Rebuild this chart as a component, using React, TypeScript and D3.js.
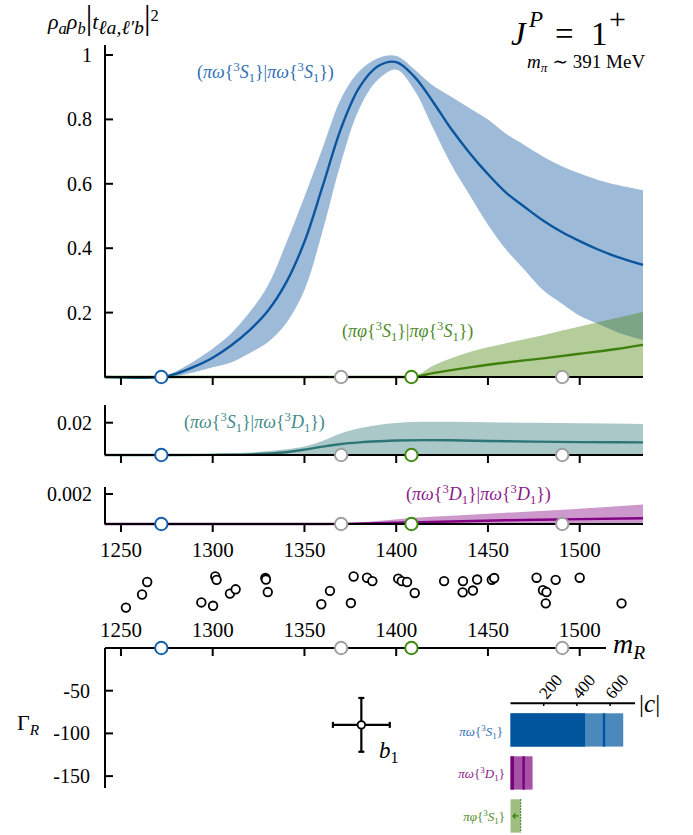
import * as d3 from "d3";

// ---- data ----
const xTicks = [1250, 1300, 1350, 1400, 1450, 1500];
const thresholds = [1272, 1370, 1408.3, 1490.5];
const thresholdColors = ["#1660ae", "#a0a0a0", "#3f8a10", "#a0a0a0"];

const mainTicks = [0.2, 0.4, 0.6, 0.8, 1];
const mainTickLabels = ["0.2", "0.4", "0.6", "0.8", "1"];

// (πω{3S1}|πω{3S1})
const swM = [1241, 1272, 1280, 1290, 1300, 1310, 1320, 1330, 1340, 1350, 1360, 1370, 1380, 1390, 1400, 1410, 1420, 1430, 1440, 1450, 1460, 1470, 1480, 1490, 1500, 1510, 1520, 1534.5];
const swMid = [0, 0, 0.01, 0.032, 0.06, 0.098, 0.145, 0.205, 0.293, 0.42, 0.594, 0.773, 0.9, 0.965, 0.978, 0.932, 0.855, 0.77, 0.696, 0.63, 0.572, 0.528, 0.486, 0.451, 0.422, 0.396, 0.374, 0.348];
const swHi = [0, 0, 0.018, 0.05, 0.088, 0.135, 0.2, 0.283, 0.415, 0.56, 0.713, 0.865, 0.95, 0.99, 0.997, 0.955, 0.905, 0.87, 0.835, 0.8, 0.755, 0.72, 0.685, 0.655, 0.632, 0.612, 0.597, 0.58];
const swLo = [0, 0, 0.003, 0.015, 0.03, 0.045, 0.074, 0.108, 0.167, 0.27, 0.456, 0.668, 0.835, 0.923, 0.955, 0.89, 0.774, 0.66, 0.565, 0.473, 0.395, 0.332, 0.27, 0.229, 0.19, 0.165, 0.14, 0.115];

// (πφ{3S1}|πφ{3S1})
const phM = [1241, 1408.3, 1420, 1440, 1460, 1480, 1500, 1520, 1534.5];
const phMid = [0, 0, 0.012, 0.03, 0.045, 0.058, 0.072, 0.087, 0.1];
const phHi = [0, 0, 0.035, 0.078, 0.105, 0.13, 0.157, 0.183, 0.203];

// (πω{3S1}|πω{3D1})
const sdM = [1241, 1280, 1300, 1320, 1340, 1350, 1360, 1370, 1380, 1390, 1400, 1415, 1430, 1450, 1475, 1500, 1534.5];
const sdMid = [0, 0, 0.0001, 0.0004, 0.0017, 0.0033, 0.0052, 0.0068, 0.0078, 0.0085, 0.009, 0.0092, 0.0091, 0.0087, 0.0083, 0.008, 0.0078];
const sdHi = [0.0002, 0.0004, 0.0008, 0.0015, 0.0035, 0.0052, 0.0088, 0.0135, 0.0165, 0.0186, 0.0198, 0.0206, 0.0206, 0.0203, 0.0199, 0.0196, 0.0192];

// (πω{3D1}|πω{3D1})
const ddM = [1241, 1360, 1370, 1390, 1408.3, 1430, 1460, 1490.5, 1534.5];
const ddMid = [0, 0, 0.00001, 0.00005, 0.00011, 0.00017, 0.00025, 0.00031, 0.00038];
const ddHi = [0, 0, 0.00003, 0.0002, 0.0004, 0.00055, 0.00075, 0.00095, 0.0013];

// pole masses from the different parameterizations
const poleMass = [1252.7, 1261.5, 1264.3, 1301.4, 1302.1, 1293.8, 1300.2, 1309.4, 1312.5, 1328.7, 1329, 1330, 1359.2, 1363.9, 1375.3, 1376.8, 1384.1, 1387, 1401.1, 1403, 1405.9, 1410.1, 1426.1, 1436.4, 1436.2, 1441.8, 1444.1, 1452.1, 1453.4, 1476.5, 1480, 1481.9, 1481.5, 1486.9, 1500, 1522.8];
const poleJitter = [1.02, 0.59, 0.18, 0, 0.11, 0.85, 0.96, 0.56, 0.42, 0.05, 0.1, 0.51, 0.91, 0.47, 0.87, 0, 0.04, 0.15, 0.07, 0.15, 0.18, 0.54, 0.15, 0.15, 0.52, 0.46, 0.1, 0.11, 0.05, 0.04, 0.45, 0.51, 0.88, 0.11, 0.04, 0.88];

const gammaTicks = [-50, -100, -150];
const b1 = { m: 1381, mErr: 15.5, g: -90, gErr: 31.5 };

const couplingTicks = [200, 400, 600];
const couplingLow = [449, 21, 0];
const couplingMid = [563, 79, NaN];
const couplingHigh = [679, 133, 61];

// ---- scales ----
const x = d3.scaleLinear().domain([1241.3, 1534.5]).range([105, 643]);
const yMain = d3.scaleLinear().domain([0, 1]).range([377, 55]);
const ySd = d3.scaleLinear().domain([0, 0.02]).range([455, 422.7]);
const yDd = d3.scaleLinear().domain([0, 0.002]).range([524, 494]);
const yJit = d3.scaleLinear().domain([0, 1]).range([576.5, 607]);
const yG = d3.scaleLinear().domain([0, -50]).range([648, 690.7]);
const xC = d3.scaleLinear().domain([0, 200]).range([510.5, 543.7]);
const yC = d3.scaleBand<number>().domain([0, 1, 2]).range([708.45, 837.45]).paddingInner(0.2256).paddingOuter(0.1128);

const FONT = "'Liberation Serif', 'DejaVu Serif', serif";

type Seg = { t: string; i?: boolean; s?: "sup" | "sub"; k?: number };

function MText({ x, y, segs, size, fill = "#000", anchor = "start" }: { x: number; y: number; segs: Seg[]; size: number; fill?: string; anchor?: string }) {
  let cur = 0;
  return (
    <text x={x} y={y} fontFamily={FONT} fontSize={size} fill={fill} textAnchor={anchor}>
      {segs.map((sg, i) => {
        const target = sg.s === "sup" ? -0.38 * size : sg.s === "sub" ? 0.22 * size : 0;
        const dy = target - cur;
        cur = target;
        return (
          <tspan key={i} dy={dy} fontSize={sg.s ? size * (sg.k || 0.7) : size * (sg.k || 1)} fontStyle={sg.i ? "italic" : "normal"}>
            {sg.t}
          </tspan>
        );
      })}
    </text>
  );
}

const chan = (p: string, L: string): Seg[] => [
  { t: p, i: true },
  { t: "{" },
  { t: "3", s: "sup" },
  { t: L, i: true },
  { t: "1", s: "sub" },
  { t: "}" },
];
const pair = (a: Seg[], b: Seg[]): Seg[] => [{ t: "(" }, ...a, { t: "|" }, ...b, { t: ")" }];

type Curve = d3.CurveFactory;
const smooth: Curve = d3.curveCatmullRom.alpha(0.5);
const mono: Curve = d3.curveMonotoneX;

function band(ms: number[], hi: number[], lo: number[] | null, y: d3.ScaleLinear<number, number>, c: Curve) {
  return d3
    .area<number>()
    .x((i) => x(ms[i]))
    .y0((i) => y(lo ? lo[i] : 0))
    .y1((i) => y(hi[i]))
    .curve(c)(ms.map((_, i) => i)) as string;
}
function line(ms: number[], v: number[], y: d3.ScaleLinear<number, number>, c: Curve) {
  return d3
    .line<number>()
    .x((i) => x(ms[i]))
    .y((i) => Math.min(y(v[i]), y(0)))
    .curve(c)(ms.map((_, i) => i)) as string;
}

const BLUE = "#0a559e";
const GREEN = "#3f800c";
const TEAL = "#2e7676";
const PURPLE = "#820082";

function XAxis({ y0, x1 = 643 }: { y0: number; x1?: number }) {
  return (
    <g>
      <line x1={105} x2={x1} y1={y0} y2={y0} stroke="#000" strokeWidth={2} />
      {xTicks.map((t) => (
        <line key={t} x1={x(t)} x2={x(t)} y1={y0} y2={y0 + 8} stroke="#000" strokeWidth={2} />
      ))}
    </g>
  );
}

function Thresholds({ y0 }: { y0: number }) {
  return (
    <g>
      {thresholds.map((t, i) => (
        <circle key={i} cx={x(t)} cy={y0} r={6.2} fill="#fff" stroke={thresholdColors[i]} strokeWidth={2} />
      ))}
    </g>
  );
}

export default function App() {
  const arrowY = (yC(2) as number) + yC.bandwidth() / 2;
  return (
    <svg width={693} height={835} style={{ position: "absolute", left: 0, top: 0, background: "#fff" }}>
      {/* ---- main panel ---- */}
      <path d={band(swM, swHi, swLo, yMain, smooth)} fill={BLUE} fillOpacity={0.4} />
      <path d={band(phM, phHi, null, yMain, mono)} fill="#4c8811" fillOpacity={0.42} />
      <path d={line(swM, swMid, yMain, smooth)} fill="none" stroke={BLUE} strokeWidth={2.4} />
      <path d={line(phM, phMid, yMain, mono)} fill="none" stroke={GREEN} strokeWidth={2.4} />
      <line x1={105} x2={105} y1={45} y2={377} stroke="#000" strokeWidth={2} />
      {mainTicks.map((t, i) => (
        <g key={t}>
          <line x1={105} x2={113} y1={yMain(t)} y2={yMain(t)} stroke="#000" strokeWidth={2} />
          <text x={92} y={yMain(t) + 7} textAnchor="end" fontFamily={FONT} fontSize={20}>
            {mainTickLabels[i]}
          </text>
        </g>
      ))}
      <XAxis y0={377} />
      <Thresholds y0={377} />

      <MText
        x={48}
        y={29}
        size={22}
        segs={[
          { t: "ρ", i: true },
          { t: "a", i: true, s: "sub", k: 0.75 },
          { t: "ρ", i: true },
          { t: "b", i: true, s: "sub", k: 0.75 },
          { t: "|", k: 1.5 },
          { t: "t", i: true },
          { t: "ℓa,ℓ′b", i: true, s: "sub", k: 0.9 },
          { t: "|", k: 1.5 },
          { t: "2", s: "sup", k: 0.75 },
        ]}
      />
      <g fontFamily={FONT}>
        <text x={511} y={45} fontSize={33} fontStyle="italic">J</text>
        <text x={529} y={27} fontSize={23} fontStyle="italic">P</text>
        <text x={555} y={45} fontSize={33}>=</text>
        <text x={591} y={45} fontSize={33}>1</text>
        <text x={609} y={29} fontSize={30}>+</text>
      </g>
      <MText x={527} y={68} size={19} segs={[{ t: "m", i: true }, { t: "π", i: true, s: "sub" }, { t: " ∼ 391 MeV" }]} />

      <MText x={197} y={78} size={18} fill="#2f6fb5" segs={pair(chan("πω", "S"), chan("πω", "S"))} />
      <MText x={342} y={337} size={18} fill="#4f8a2a" segs={pair(chan("πφ", "S"), chan("πφ", "S"))} />

      {/* ---- S-D panel ---- */}
      <path d={band(sdM, sdHi, null, ySd, mono)} fill={TEAL} fillOpacity={0.4} />
      <path d={line(sdM, sdMid, ySd, mono)} fill="none" stroke={TEAL} strokeWidth={2.4} />
      <line x1={105} x2={105} y1={405} y2={455} stroke="#000" strokeWidth={2} />
      <line x1={105} x2={113} y1={ySd(0.02)} y2={ySd(0.02)} stroke="#000" strokeWidth={2} />
      <text x={92} y={ySd(0.02) + 7} textAnchor="end" fontFamily={FONT} fontSize={20}>
        0.02
      </text>
      <XAxis y0={455} />
      <Thresholds y0={455} />
      <MText x={184} y={428} size={18} fill="#3f8a8a" segs={pair(chan("πω", "S"), chan("πω", "D"))} />

      {/* ---- D-D panel ---- */}
      <path d={band(ddM, ddHi, null, yDd, mono)} fill={PURPLE} fillOpacity={0.4} />
      <path d={line(ddM, ddMid, yDd, mono)} fill="none" stroke={PURPLE} strokeWidth={2.4} />
      <line x1={105} x2={105} y1={487} y2={524} stroke="#000" strokeWidth={2} />
      <line x1={105} x2={113} y1={yDd(0.002)} y2={yDd(0.002)} stroke="#000" strokeWidth={2} />
      <text x={92} y={yDd(0.002) + 7} textAnchor="end" fontFamily={FONT} fontSize={20}>
        0.002
      </text>
      <XAxis y0={524} />
      <Thresholds y0={524} />
      <MText x={406} y={500} size={18} fill="#8a1a8a" segs={pair(chan("πω", "D"), chan("πω", "D"))} />
      {xTicks.map((t) => (
        <text key={t} x={x(t)} y={557} textAnchor="middle" fontFamily={FONT} fontSize={21}>
          {t}
        </text>
      ))}

      {/* ---- pole mass scatter ---- */}
      {poleMass.map((m, i) => (
        <circle key={i} cx={x(m)} cy={yJit(poleJitter[i])} r={4.3} fill="#fff" stroke="#000" strokeWidth={1.8} />
      ))}

      {/* ---- Gamma panel ---- */}
      {xTicks.map((t) => (
        <text key={t} x={x(t)} y={637} textAnchor="middle" fontFamily={FONT} fontSize={21}>
          {t}
        </text>
      ))}
      <XAxis y0={648} x1={606} />
      <line x1={105} x2={105} y1={648} y2={788} stroke="#000" strokeWidth={2} />
      {gammaTicks.map((t) => (
        <g key={t}>
          <line x1={105} x2={113} y1={yG(t)} y2={yG(t)} stroke="#000" strokeWidth={2} />
          <text x={90} y={yG(t) + 7} textAnchor="end" fontFamily={FONT} fontSize={20}>
            {t}
          </text>
        </g>
      ))}
      <Thresholds y0={648} />
      <MText x={613} y={653} size={28} segs={[{ t: "m", i: true }, { t: "R", i: true, s: "sub" }]} />
      <MText x={17} y={730} size={22} segs={[{ t: "Γ" }, { t: "R", i: true, s: "sub" }]} />

      <g stroke="#000" strokeWidth={2.2}>
        <line x1={x(b1.m - b1.mErr)} x2={x(b1.m + b1.mErr)} y1={yG(b1.g)} y2={yG(b1.g)} />
        <line x1={x(b1.m)} x2={x(b1.m)} y1={yG(b1.g + b1.gErr)} y2={yG(b1.g - b1.gErr)} />
        <line x1={x(b1.m - b1.mErr)} x2={x(b1.m - b1.mErr)} y1={yG(b1.g) - 3} y2={yG(b1.g) + 3} />
        <line x1={x(b1.m + b1.mErr)} x2={x(b1.m + b1.mErr)} y1={yG(b1.g) - 3} y2={yG(b1.g) + 3} />
        <line x1={x(b1.m) - 3} x2={x(b1.m) + 3} y1={yG(b1.g + b1.gErr)} y2={yG(b1.g + b1.gErr)} />
        <line x1={x(b1.m) - 3} x2={x(b1.m) + 3} y1={yG(b1.g - b1.gErr)} y2={yG(b1.g - b1.gErr)} />
      </g>
      <circle cx={x(b1.m)} cy={yG(b1.g)} r={3.8} fill="#fff" stroke="#000" strokeWidth={1.8} />
      <MText x={379} y={758} size={23} segs={[{ t: "b", i: true }, { t: "1", s: "sub" }]} />

      {/* ---- couplings ---- */}
      <line x1={xC(0)} x2={635} y1={703.3} y2={703.3} stroke="#000" strokeWidth={2} />
      {couplingTicks.map((t) => (
        <g key={t}>
          <line x1={xC(t)} x2={xC(t)} y1={703.3} y2={706} stroke="#000" strokeWidth={1.5} />
          <text transform={`translate(${xC(t) + 3},${700}) rotate(-50)`} fontFamily={FONT} fontSize={17}>
            {t}
          </text>
        </g>
      ))}
      <MText x={639} y={712} size={25} segs={[{ t: "|" }, { t: "c", i: true }, { t: "|" }]} />

      {[0, 1].map((i) => {
        const dark = i === 0 ? "#00559d" : "#7b007b";
        const light = i === 0 ? "#4b89bd" : "#a652a6";
        const y0 = yC(i) as number;
        const h = yC.bandwidth();
        return (
          <g key={i}>
            <rect x={xC(0)} y={y0} width={xC(couplingHigh[i]) - xC(0)} height={h} fill={light} />
            <rect x={xC(0)} y={y0} width={xC(couplingLow[i]) - xC(0)} height={h} fill={dark} />
            <rect x={xC(couplingMid[i]) - 1.2} y={y0} width={2.4} height={h} fill={dark} />
          </g>
        );
      })}
      <rect x={xC(0)} y={yC(2) as number} width={xC(couplingHigh[2]) - xC(0)} height={yC.bandwidth()} fill="#9fbf80" />
      <line
        x1={xC(couplingHigh[2])}
        x2={xC(couplingHigh[2])}
        y1={yC(2) as number}
        y2={(yC(2) as number) + yC.bandwidth()}
        stroke="#3e7f10"
        strokeWidth={1.3}
        strokeDasharray="1.5 1.5"
      />
      <path
        d={`M${xC(couplingHigh[2]) - 2},${arrowY} H${xC(0) + 2.5} M${xC(0) + 5},${arrowY - 2.5} L${xC(0) + 2.5},${arrowY} L${xC(0) + 5},${arrowY + 2.5}`}
        fill="none"
        stroke="#3e7f10"
        strokeWidth={1.3}
      />

      <MText x={503} y={736} size={13} anchor="end" fill="#2f6fb5" segs={chan("πω", "S")} />
      <MText x={505} y={778} size={13} anchor="end" fill="#8a1a8a" segs={chan("πω", "D")} />
      <MText x={505} y={821} size={13} anchor="end" fill="#4f8a2a" segs={chan("πφ", "S")} />
    </svg>
  );
}
